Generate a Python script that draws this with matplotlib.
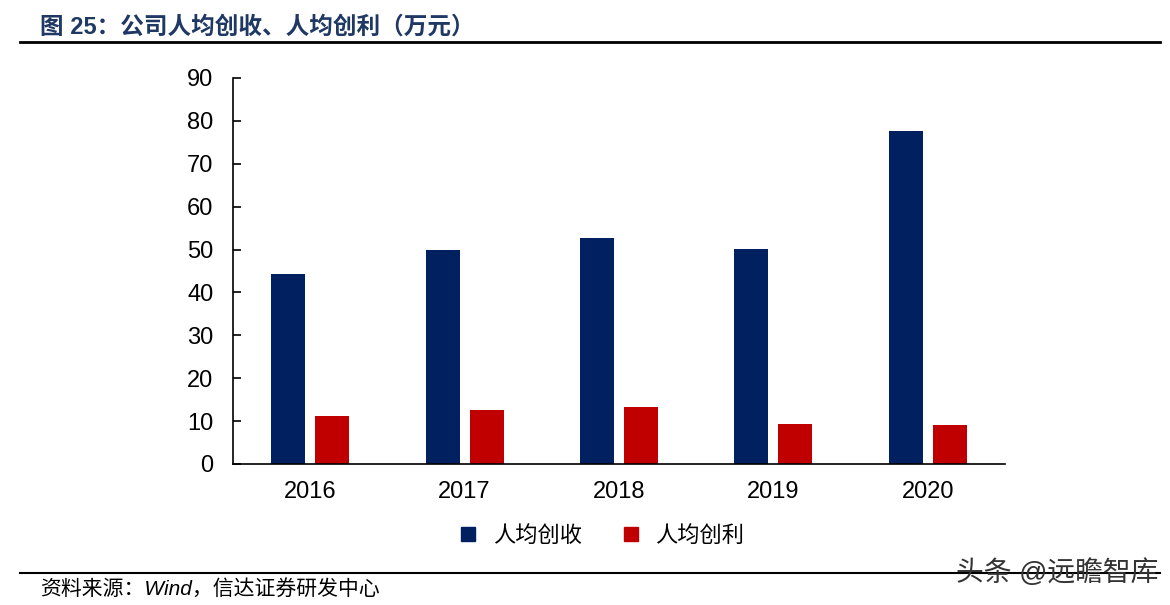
import numpy as np
import matplotlib.pyplot as plt
from matplotlib.lines import Line2D

plt.rcParams['font.family'] = ['Liberation Sans', 'Noto Sans CJK SC', 'DejaVu Sans']

years = ['2016', '2017', '2018', '2019', '2020']
revenue = [44.3, 49.9, 52.7, 50.1, 77.6]
profit = [11.2, 12.6, 13.3, 9.3, 9.1]
series = ['人均创收', '人均创利']
colors = ['#002060', '#C00000']

fig = plt.figure(figsize=(11.7, 6.05), dpi=100)
ax = fig.add_axes([233 / 1170, 1 - 464 / 605, 772 / 1170, 386 / 605])

x = np.arange(len(years))
w = 0.22
ax.bar(x - 0.143, revenue, w, color=colors[0], label=series[0])
ax.bar(x + 0.143, profit, w, color=colors[1], label=series[1])

ax.set_xlim(-0.5, 4.5)
ax.set_ylim(0, 90)
ax.set_yticks(range(0, 91, 10))
ax.set_xticks(x)
ax.set_xticklabels(years)
ax.tick_params(axis='y', direction='in', length=6, width=1.2, labelsize=17, pad=14)
ax.tick_params(axis='x', length=0, labelsize=17, pad=12)
for s in ['top', 'right']:
    ax.spines[s].set_visible(False)
for s in ['left', 'bottom']:
    ax.spines[s].set_linewidth(1.2)

handles = [Line2D([], [], marker='s', linestyle='', markersize=10, color=c) for c in colors]
fig.legend(handles, series, loc='center', bbox_to_anchor=(595 / 1170, 1 - 536 / 605),
           ncol=2, frameon=False, fontsize=16, handletextpad=0.1, columnspacing=1.2)

# title and rules
fig.text(40 / 1170, 1 - 27 / 605, '图 25：公司人均创收、人均创利（万元）', fontsize=17,
         fontweight='bold', color='#1F3864', va='center', ha='left')
fig.add_artist(Line2D([20 / 1170, 1160 / 1170], [1 - 42 / 605] * 2, color='black', lw=2))
fig.add_artist(Line2D([20 / 1170, 1160 / 1170], [1 - 573 / 605] * 2, color='black', lw=1.5))
fig.text(40 / 1170, 1 - 589 / 605, '资料来源：Wind，信达证券研发中心', fontsize=15,
         style='italic', va='center', ha='left')
fig.text(1158 / 1170, 1 - 573 / 605, '头条 @远瞻智库', fontsize=20, color='#333333',
         va='center', ha='right')

fig.savefig('out.png', dpi=100)
